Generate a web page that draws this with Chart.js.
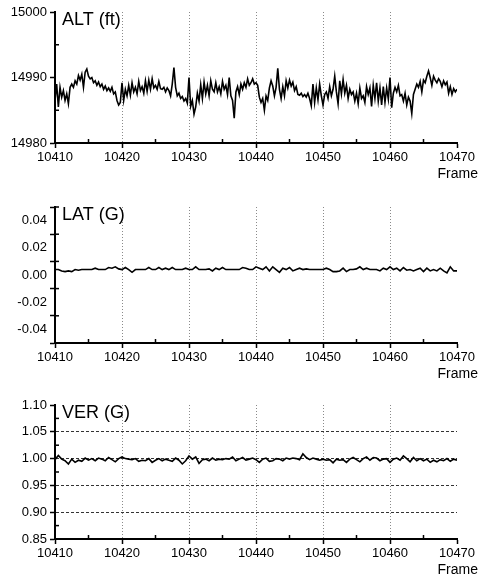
<!DOCTYPE html>
<html>
<head>
<meta charset="utf-8">
<script src="https://cdn.jsdelivr.net/npm/chart.js@4"></script>
<style>
  html, body { margin: 0; padding: 0; background: #fff; }
  #wrap { position: relative; width: 479px; height: 583px; }
  .panel { position: absolute; left: 0; width: 479px; }
  canvas { display: block; }
</style>
</head>
<body>
<div id="wrap">
  <div class="panel" style="top:0px;height:185px"><canvas id="alt"></canvas></div>
  <div class="panel" style="top:195px;height:185px"><canvas id="lat"></canvas></div>
  <div class="panel" style="top:393px;height:190px"><canvas id="ver"></canvas></div>
</div>
<script>
// frame axis
const frameStart = 10410;
const frameEnd = 10470;
const frameTicks = [10410, 10420, 10430, 10440, 10450, 10460, 10470];

// ALT (ft), sampled every 0.25 frame
const altStep = 0.25;
const altValues = [
  14986.5, 14989, 14985.5, 14988.5,   14987, 14988, 14986.5, 14987.5,
  14986, 14988.5, 14989, 14988.5,     14989.5, 14989, 14990.3, 14989.6,
  14990.5, 14988.5, 14990.8, 14991.3, 14990.2, 14989.8, 14990, 14989.2,
  14989.5, 14988.8, 14989.3, 14988.6, 14989, 14988.2, 14988.7, 14988,
  14988.4, 14987.9, 14988.5, 14987.5, 14987.8, 14986.5, 14985.8, 14986.2,
  14989.2, 14986.5, 14988.2, 14987.2, 14988.8, 14987.3, 14989.2, 14987.8,
  14988.5, 14987.5, 14989.4, 14988,   14988.6, 14987.6, 14989.5, 14987.9,
  14989.6, 14988.2, 14989.8, 14988.4, 14988.8, 14988.2, 14989.4, 14988.3,
  14988.2, 14988.5, 14987.8, 14988.4, 14988, 14987.2, 14989, 14991.5,
  14988.5, 14987.2, 14987.6, 14986.8, 14987.1, 14986.4, 14986.8, 14986.1,
  14990, 14985.6, 14986.5, 14984.4,   14985.5, 14987.6, 14986.4, 14988.9,
  14986.8, 14989.3, 14987.5, 14988.8, 14987.2, 14989.5, 14988.2, 14987.8,
  14989.2, 14987.8, 14988.6, 14987.5, 14989.4, 14988.2, 14988.8, 14987.4,
  14990, 14987.2, 14986.5, 14983.8,   14987.8, 14988.6, 14987.4, 14989,
  14988.2, 14989.2, 14988.5, 14989.8, 14988.8, 14989.2, 14989.8, 14989,
  14989.2, 14988.8, 14987, 14986.2,   14986.8, 14985, 14987.2, 14986.5,
  14988.4, 14989.5, 14988.7, 14987.2, 14988.5, 14991.4, 14988.2, 14986.8,
  14988.6, 14987.2, 14989.5, 14988.4, 14989.6, 14988.7, 14989.3, 14988,
  14988.6, 14987.4, 14987.3, 14987.6, 14987.1, 14987.4, 14987, 14987.6,
  14986.8, 14985.7, 14989, 14986.2,   14988.4, 14986.6, 14989, 14987.2,
  14985.8, 14987.4, 14987.8, 14986.8, 14988.6, 14987.2, 14988.2, 14990.2,
  14987.8, 14986, 14989.5, 14987.5,   14989.7, 14987.6, 14988.8, 14986.8,
  14988.2, 14987.4, 14987.8, 14986.4, 14987.6, 14986, 14988.4, 14986.8,
  14987.2, 14986.2, 14988.6, 14987.4, 14988.4, 14985.6, 14988.8, 14986.8,
  14989.2, 14986.4, 14988.4, 14985.8, 14988.6, 14986.2, 14988.4, 14986.7,
  14990, 14985.4, 14987.6, 14988.5,   14987.8, 14988.8, 14987.2, 14987.4,
  14986.4, 14987.6, 14985.8, 14987,   14986.4, 14984.5, 14987.4, 14988.2,
  14989, 14988.5, 14989.4, 14987.8,   14989.6, 14989.2, 14990.2, 14991,
  14990, 14988.8, 14990.2, 14989.6,   14989.2, 14989.8, 14989.4, 14988.6,
  14989.5, 14988.9, 14989.3, 14987.6, 14988.6, 14987.4, 14988.3, 14987.8,
  14988.2
];

// LAT (G), sampled every 0.5 frame
const latStep = 0.5;
const latValues = [
  0.004, 0.004, 0.003, 0.0025, 0.003, 0.0025, 0.004, 0.0035, 0.004, 0.004,
  0.004, 0.004, 0.005, 0.004, 0.004, 0.004, 0.0055, 0.005, 0.006, 0.0045,
  0.004, 0.0055, 0.004, 0.002, 0.004, 0.004, 0.004, 0.004, 0.0055, 0.004,
  0.004, 0.0055, 0.004, 0.005, 0.004, 0.0055, 0.004, 0.004, 0.004, 0.005,
  0.004, 0.004, 0.006, 0.004, 0.004, 0.004, 0.0045, 0.003, 0.005, 0.004,
  0.0055, 0.004, 0.004, 0.004, 0.004, 0.004, 0.0055, 0.005, 0.004, 0.004,
  0.006, 0.005, 0.004, 0.006, 0.003, 0.006, 0.004, 0.002, 0.005, 0.004,
  0.0055, 0.003, 0.004, 0.005, 0.004, 0.0045, 0.004, 0.004, 0.004, 0.004,
  0.004, 0.005, 0.004, 0.0025, 0.0025, 0.003, 0.005, 0.0025, 0.004, 0.004,
  0.0045, 0.006, 0.004, 0.005, 0.004, 0.004, 0.004, 0.003, 0.005, 0.004,
  0.006, 0.004, 0.005, 0.003, 0.0055, 0.0035, 0.004, 0.003, 0.004, 0.005,
  0.0025, 0.005, 0.003, 0.004, 0.003, 0.005, 0.003, 0.0015, 0.006, 0.003,
  0.003
];

// VER (G), sampled every 0.5 frame
const verStep = 0.5;
const verValues = [
  0.998, 1.006, 0.999, 0.996, 0.990, 0.999, 0.993, 0.997, 0.995, 1.001,
  0.997, 1.000, 0.996, 1.001, 0.999, 0.996, 1.002, 0.998, 0.994, 1.000,
  1.003, 1.000, 0.999, 0.998, 1.000, 0.995, 0.997, 0.996, 1.000, 0.993,
  0.997, 1.000, 0.996, 0.999, 0.997, 0.995, 1.001, 0.997, 0.990, 0.996,
  1.005, 0.999, 1.003, 0.991, 0.998, 0.999, 0.996, 1.001, 0.997, 0.999,
  0.998, 1.000, 0.999, 1.003, 0.996, 0.999, 1.002, 0.997, 0.999, 1.001,
  0.998, 0.993, 0.999, 1.001, 0.995, 0.996, 1.000, 0.999, 0.996, 1.001,
  0.999, 1.001, 1.000, 0.998, 1.009, 1.002, 0.998, 1.001, 0.999, 0.997,
  0.999, 0.997, 0.998, 0.992, 0.999, 0.997, 0.998, 0.993, 0.999, 1.002,
  0.998, 0.994, 1.000, 1.003, 0.997, 1.002, 1.001, 0.996, 0.999, 1.000,
  0.993, 0.999, 1.001, 0.997, 1.005, 1.000, 0.994, 1.002, 0.996, 1.000,
  0.996, 0.999, 0.993, 0.997, 0.994, 0.998, 0.996, 1.000, 0.995, 0.999,
  0.997
];

// y axes: range, minor step, major step, labelled ticks
const altAxis = { min: 14980, max: 15000, step: 5, major: 10, labels: ['14980', '14990', '15000'] };
const latAxis = { min: -0.05, max: 0.05, step: 0.01, major: 0.02, labels: ['-0.04', '-0.02', '0.00', '0.02', '0.04'] };
const verAxis = { min: 0.85, max: 1.10, step: 0.025, major: 0.05, labels: ['0.85', '0.90', '0.95', '1.00', '1.05', '1.10'] };

const FONT = 'Liberation Sans, Arial, sans-serif';

function toPoints(values, step) {
    return values.map((v, i) => ({ x: frameStart + i * step, y: v }));
}

function isMult(v, m) {
    const r = v / m;
    return Math.abs(r - Math.round(r)) < 1e-6;
}

// panel label, "Frame" caption and inward minor ticks
const decor = {
    id: 'decor',
    afterDraw(chart, args, opts) {
        const ctx = chart.ctx;
        const area = chart.chartArea;
        ctx.save();
        ctx.fillStyle = '#000';
        ctx.font = '18px ' + FONT;
        ctx.textBaseline = 'top';
        ctx.textAlign = 'left';
        ctx.fillText(opts.title, area.left + 7, area.top - 1);
        ctx.font = '14px ' + FONT;
        ctx.textAlign = 'right';
        ctx.textBaseline = 'middle';
        ctx.fillText('Frame', chart.width - 1, area.bottom + 31);

        ctx.strokeStyle = '#000';
        ctx.lineWidth = 1.5;
        const xs = chart.scales.x;
        xs.ticks.forEach(t => {
            if (!isMult(t.value - frameStart, 10)) {
                const px = xs.getPixelForValue(t.value);
                ctx.beginPath();
                ctx.moveTo(px, area.bottom);
                ctx.lineTo(px, area.bottom - 4);
                ctx.stroke();
            }
        });
        const ys = chart.scales.y;
        ys.ticks.forEach(t => {
            if (t.label === '') {
                const py = ys.getPixelForValue(t.value);
                ctx.beginPath();
                ctx.moveTo(area.left, py);
                ctx.lineTo(area.left + 4, py);
                ctx.stroke();
            }
        });
        ctx.restore();
    }
};

function panel(id, title, values, step, axis, hGrid, xHeight) {
    new Chart(document.getElementById(id), {
        type: 'line',
        data: {
            datasets: [{
                data: toPoints(values, step),
                borderColor: '#000',
                borderWidth: 1.6,
                pointRadius: 0,
                tension: 0,
                fill: false
            }]
        },
        options: {
            responsive: true,
            maintainAspectRatio: false,
            animation: false,
            layout: { padding: { top: 12, right: 22, bottom: 0, left: 0 } },
            plugins: {
                legend: { display: false },
                tooltip: { enabled: false },
                decor: { title: title }
            },
            scales: {
                x: {
                    type: 'linear',
                    min: frameStart,
                    max: frameEnd,
                    afterFit(scale) { scale.height = xHeight; },
                    ticks: {
                        stepSize: 5,
                        autoSkip: false,
                        maxRotation: 0,
                        padding: 2,
                        color: '#000',
                        font: { family: FONT, size: 13 },
                        callback: v => frameTicks.includes(v) ? String(v) : ''
                    },
                    grid: {
                        color: c => (c.tick && frameTicks.includes(c.tick.value) && c.tick.value !== frameStart && c.tick.value !== frameEnd) ? '#8a8a8a' : 'rgba(0,0,0,0)',
                        lineWidth: 1,
                        tickLength: 5,
                        tickWidth: 1.5,
                        tickColor: c => (c.tick && frameTicks.includes(c.tick.value)) ? '#000' : 'rgba(0,0,0,0)'
                    },
                    border: { display: true, color: '#000', width: 2, dash: [1, 2] }
                },
                y: {
                    min: axis.min,
                    max: axis.max,
                    afterFit(scale) { scale.width = 55; },
                    ticks: {
                        stepSize: axis.step,
                        autoSkip: false,
                        padding: 3,
                        color: '#000',
                        font: { family: FONT, size: 13 },
                        callback: v => {
                            const s = (Math.round(v * 1000) / 1000).toFixed(axis.step < 1 ? 2 : 0);
                            return axis.labels.includes(s) ? s : '';
                        }
                    },
                    grid: {
                        color: c => {
                            if (!hGrid || !c.tick) return 'rgba(0,0,0,0)';
                            const v = c.tick.value;
                            const major = isMult(v - axis.min, axis.major);
                            return (major && Math.abs(v - axis.min) > 1e-6 && Math.abs(v - axis.max) > 1e-6) ? '#333' : 'rgba(0,0,0,0)';
                        },
                        lineWidth: 1,
                        tickLength: 5,
                        tickWidth: 1.5,
                        tickColor: c => (c.tick && isMult(c.tick.value - axis.min, axis.major)) ? '#000' : 'rgba(0,0,0,0)'
                    },
                    border: { display: true, color: '#000', width: 2, dash: [3, 2] }
                }
            }
        },
        plugins: [decor]
    });
}

panel('alt', 'ALT (ft)', altValues, altStep, altAxis, false, 42);
panel('lat', 'LAT (G)', latValues, latStep, latAxis, false, 37);
panel('ver', 'VER (G)', verValues, verStep, verAxis, true, 44);
</script>
</body>
</html>
